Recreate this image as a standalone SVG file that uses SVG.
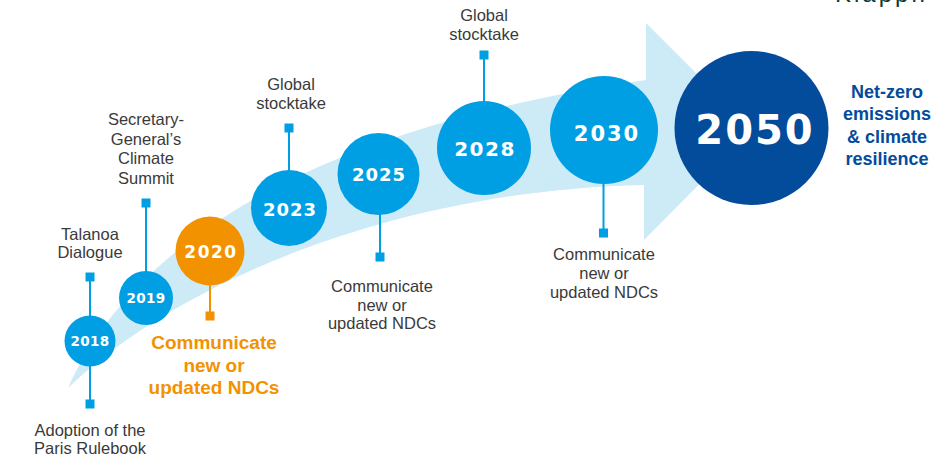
<svg xmlns="http://www.w3.org/2000/svg" width="937" height="460" viewBox="0 0 937 460">
<style>
.band{fill:#cdeaf7}
.c{fill:#009fe3}
.co{fill:#f39200}
.cd{fill:#034b9b}
.yr{font-family:"DejaVu Sans",sans-serif;font-weight:bold;fill:#fff;text-anchor:middle}
.lb{font-family:"Liberation Sans",Arial,sans-serif;font-size:16.5px;fill:#3a3a3a;text-anchor:middle}
.ob{font-family:"Liberation Sans",Arial,sans-serif;font-size:19px;font-weight:bold;fill:#f39200;text-anchor:middle}
.nz{font-family:"Liberation Sans",Arial,sans-serif;font-size:18px;font-weight:bold;fill:#034b9b;text-anchor:middle}
.ln{stroke:#009fe3;stroke-width:2;fill:none}
.lo{stroke:#f39200;stroke-width:2;fill:none}
.sq{fill:#009fe3}
.sqo{fill:#f39200}
</style>
<text x="835" y="2" font-family="Liberation Sans,Arial,sans-serif" font-size="24" letter-spacing="3" fill="#0d3b2e">Klappn</text>
<path class="band" d="M68,388 C130,250 300,130 646,80 L646,23 L753,130 L644,240 L644,185 C400,190 180,280 68,388 Z"/>
<g id="connectors">
<line class="ln" x1="90" y1="277" x2="90" y2="404"/>
<rect class="sq" x="85.5" y="272.5" width="9" height="9"/>
<rect class="sq" x="85.5" y="399.5" width="9" height="9"/>
<line class="ln" x1="146" y1="203" x2="146" y2="280"/>
<rect class="sq" x="141.5" y="198.5" width="9" height="9"/>
<line class="lo" x1="210" y1="270" x2="210" y2="316"/>
<rect class="sqo" x="205.5" y="311.5" width="9" height="9"/>
<line class="ln" x1="289" y1="128" x2="289" y2="190"/>
<rect class="sq" x="284.5" y="123.5" width="9" height="9"/>
<line class="ln" x1="380" y1="190" x2="380" y2="257"/>
<rect class="sq" x="375.5" y="252.5" width="9" height="9"/>
<line class="ln" x1="484" y1="55" x2="484" y2="120"/>
<rect class="sq" x="479.5" y="50.5" width="9" height="9"/>
<line class="ln" x1="603.5" y1="150" x2="603.5" y2="233"/>
<rect class="sq" x="599" y="228.5" width="9" height="9"/>
</g>
<g id="n2018">
<circle class="c" cx="90" cy="341" r="25.5"/>
<text class="yr" x="90" y="346" font-size="13.5" letter-spacing="0.3">2018</text>
<text class="lb" x="90" y="436">Adoption of the</text>
<text class="lb" x="90" y="454">Paris Rulebook</text>
</g>
<g id="talanoa">
<text class="lb" x="90" y="240">Talanoa</text>
<text class="lb" x="90" y="258">Dialogue</text>
</g>
<g id="n2019">
<circle class="c" cx="146" cy="298" r="27"/>
<text class="yr" x="146" y="303" font-size="13.5" letter-spacing="0.3">2019</text>
<text class="lb" x="146" y="125">Secretary-</text>
<text class="lb" x="146" y="144.5">General’s</text>
<text class="lb" x="146" y="164">Climate</text>
<text class="lb" x="146" y="183.5">Summit</text>
</g>
<g id="n2020">
<circle class="co" cx="210" cy="251" r="34.5"/>
<text class="yr" x="211" y="257.5" font-size="17" letter-spacing="1.5">2020</text>
<text class="ob" x="214" y="349">Communicate</text>
<text class="ob" x="214" y="372">new or</text>
<text class="ob" x="214" y="394">updated NDCs</text>
</g>
<g id="n2023">
<circle class="c" cx="289" cy="208" r="38"/>
<text class="yr" x="290" y="216" font-size="18" letter-spacing="1">2023</text>
<text class="lb" x="291" y="90">Global</text>
<text class="lb" x="291" y="109">stocktake</text>
</g>
<g id="n2025">
<circle class="c" cx="378.5" cy="174" r="41"/>
<text class="yr" x="379" y="181" font-size="18" letter-spacing="1">2025</text>
<text class="lb" x="382" y="292">Communicate</text>
<text class="lb" x="382" y="311">new or</text>
<text class="lb" x="382" y="329">updated NDCs</text>
</g>
<g id="n2028">
<circle class="c" cx="484" cy="148" r="47"/>
<text class="yr" x="485" y="155.5" font-size="20" letter-spacing="1.5">2028</text>
<text class="lb" x="484" y="21">Global</text>
<text class="lb" x="484" y="40">stocktake</text>
</g>
<g id="n2030">
<circle class="c" cx="604" cy="130" r="54"/>
<text class="yr" x="607" y="140.5" font-size="21" letter-spacing="2">2030</text>
<text class="lb" x="604" y="260">Communicate</text>
<text class="lb" x="604" y="279">new or</text>
<text class="lb" x="604" y="298">updated NDCs</text>
</g>
<g id="n2050">
<circle class="cd" cx="751.5" cy="128" r="77"/>
<text class="yr" x="755" y="144" font-size="40" letter-spacing="2">2050</text>
<text class="nz" x="887" y="98">Net-zero</text>
<text class="nz" x="887" y="120">emissions</text>
<text class="nz" x="887" y="143">&amp; climate</text>
<text class="nz" x="887" y="165">resilience</text>
</g>
</svg>
